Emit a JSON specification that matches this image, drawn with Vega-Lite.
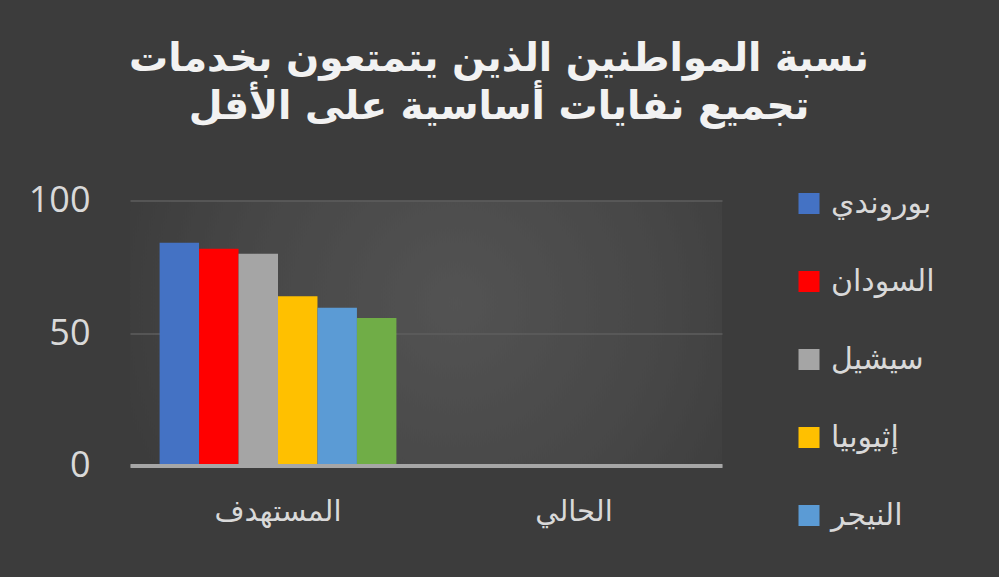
{
  "$schema": "https://vega.github.io/schema/vega-lite/v6.json",
  "autosize": {"type": "none"},
  "width": 592,
  "height": 265,
  "padding": {"left": 130, "top": 200.5, "right": 277, "bottom": 111.5},
  "background": "#3c3c3c",
  "title": {
    "text": ["نسبة المواطنين الذين يتمتعون بخدمات", "تجميع نفايات أساسية على الأقل"],
    "font": "DejaVu Sans",
    "fontSize": 39,
    "fontWeight": "bold",
    "color": "#f2f2f2",
    "lineHeight": 48,
    "anchor": "middle",
    "frame": "group",
    "dx": 73,
    "offset": 56
  },
  "data": {
    "values": [
      {"الفئة": "المستهدف", "البلد": "بوروندي", "النسبة": 84.1},
      {"الفئة": "المستهدف", "البلد": "السودان", "النسبة": 81.8},
      {"الفئة": "المستهدف", "البلد": "سيشيل", "النسبة": 79.9},
      {"الفئة": "المستهدف", "البلد": "إثيوبيا", "النسبة": 63.9},
      {"الفئة": "المستهدف", "البلد": "النيجر", "النسبة": 59.5},
      {"الفئة": "المستهدف", "البلد": "مالي", "النسبة": 55.7},
      {"الفئة": "الحالي", "البلد": "بوروندي", "النسبة": 0},
      {"الفئة": "الحالي", "البلد": "السودان", "النسبة": 0},
      {"الفئة": "الحالي", "البلد": "سيشيل", "النسبة": 0},
      {"الفئة": "الحالي", "البلد": "إثيوبيا", "النسبة": 0},
      {"الفئة": "الحالي", "البلد": "النيجر", "النسبة": 0},
      {"الفئة": "الحالي", "البلد": "مالي", "النسبة": 0}
    ]
  },
  "mark": {"type": "bar"},
  "encoding": {
    "x": {
      "field": "الفئة",
      "type": "nominal",
      "sort": ["المستهدف", "الحالي"],
      "scale": {"paddingInner": 0.2, "paddingOuter": 0.1},
      "axis": {
        "title": null,
        "labelAngle": 0,
        "labelFont": "DejaVu Sans",
        "labelFontSize": 29,
        "labelColor": "#d9d9d9",
        "labelPadding": 32,
        "ticks": false,
        "domainColor": "#a6a6a6",
        "domainWidth": 4,
        "zindex": 1
      }
    },
    "xOffset": {
      "field": "البلد",
      "type": "nominal",
      "sort": ["بوروندي", "السودان", "سيشيل", "إثيوبيا", "النيجر", "مالي"],
      "scale": {"paddingInner": 0, "paddingOuter": 0}
    },
    "y": {
      "field": "النسبة",
      "type": "quantitative",
      "scale": {"domain": [0, 100], "nice": false},
      "axis": {
        "title": null,
        "values": [0, 50, 100],
        "labelFont": "Open Sans",
        "labelFontSize": 36,
        "labelColor": "#d9d9d9",
        "labelPadding": 40,
        "ticks": false,
        "domain": false,
        "gridColor": "#5e5e5e",
        "gridWidth": 1.5
      }
    },
    "color": {
      "field": "البلد",
      "type": "nominal",
      "sort": ["بوروندي", "السودان", "سيشيل", "إثيوبيا", "النيجر", "مالي"],
      "scale": {
        "domain": ["بوروندي", "السودان", "سيشيل", "إثيوبيا", "النيجر", "مالي"],
        "range": ["#4472c4", "#ff0000", "#a5a5a5", "#ffc000", "#5b9bd5", "#70ad47"]
      },
      "legend": {
        "title": null,
        "orient": "none",
        "legendX": 664,
        "legendY": -12,
        "padding": 0,
        "values": ["بوروندي", "السودان", "سيشيل", "إثيوبيا", "النيجر"],
        "symbolType": "square",
        "symbolSize": 441,
        "symbolStrokeWidth": 0,
        "labelFont": "DejaVu Sans",
        "labelFontSize": 30,
        "labelColor": "#d9d9d9",
        "labelOffset": 7,
        "rowPadding": 48
      }
    }
  },
  "config": {
    "view": {
      "stroke": null,
      "fill": {
        "gradient": "radial",
        "x1": 0.55, "y1": 0.45, "r1": 0,
        "x2": 0.55, "y2": 0.45, "r2": 0.58,
        "stops": [
          {"offset": 0, "color": "#535353"},
          {"offset": 0.6, "color": "#474747"},
          {"offset": 1, "color": "#3c3c3c"}
        ]
      }
    }
  }
}
